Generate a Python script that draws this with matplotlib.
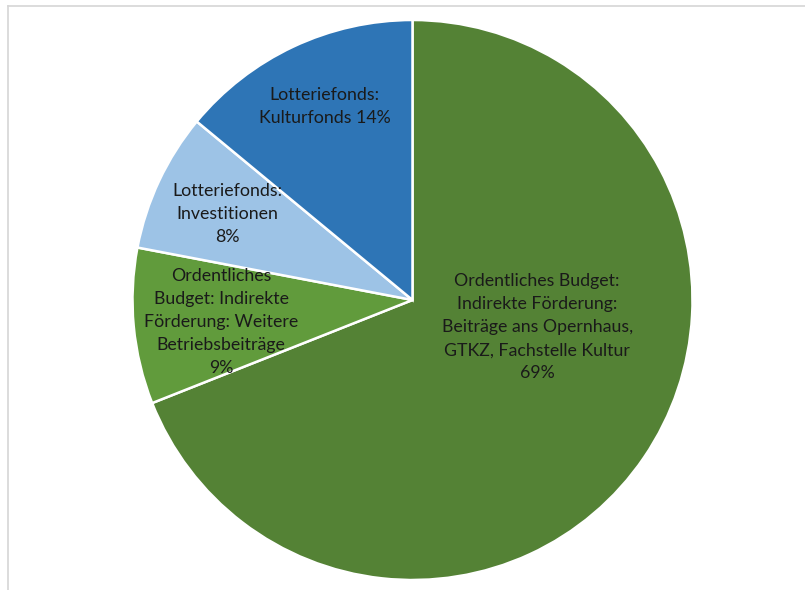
"""
Budget breakdown pie: Ordentliches Budget vs. Lotteriefonds.
"""

import matplotlib
matplotlib.use("Agg")
import matplotlib.pyplot as plt
from matplotlib.lines import Line2D

# ── data ───────────────────────────────────────
labels = [
    "Ordentliches Budget:\nIndirekte Förderung:\nBeiträge ans Opernhaus,\nGTKZ, Fachstelle Kultur\n69%",
    "Ordentliches\nBudget: Indirekte\nFörderung: Weitere\nBetriebsbeiträge\n9%",
    "Lotteriefonds:\nInvestitionen\n8%",
    "Lotteriefonds:\nKulturfonds 14%",
]
shares = [69, 9, 8, 14]
colors = ["#548235", "#619b3c", "#9dc3e6", "#2e75b6"]

# label anchor points, in units of the pie radius
label_xy = [(0.445, -0.097), (-0.683, -0.079), (-0.661, 0.307), (-0.313, 0.690)]

fig = plt.figure(figsize=(8.05, 5.90), dpi=100)
fig.patch.set_facecolor("white")

W, H = 805, 590
cx, cy, r = 412.5, 300, 280
ax = fig.add_axes([(cx - r) / W, (H - cy - r) / H, 2 * r / W, 2 * r / H])

wedges, _ = ax.pie(
    shares,
    colors=colors,
    startangle=90,
    counterclock=False,
    radius=1.0,
    wedgeprops=dict(edgecolor="white", linewidth=1.8),
)
ax.set_xlim(-1, 1)
ax.set_ylim(-1, 1)
ax.set_aspect("equal")
ax.axis("off")

for txt, (x, y) in zip(labels, label_xy):
    ax.text(x, y, txt, ha="center", va="center", fontsize=12.8,
            family="Lato", color="#1a1a1a", linespacing=1.55)

# thin grey frame edges along the top and left
fig.add_artist(Line2D([7.5 / W, 1], [1 - 5.5 / H, 1 - 5.5 / H],
                      transform=fig.transFigure, color="#d6d6d6", lw=1.2))
fig.add_artist(Line2D([7.5 / W, 7.5 / W], [0, 1 - 5.5 / H],
                      transform=fig.transFigure, color="#d6d6d6", lw=1.2))

fig.savefig("out.png", dpi=100, facecolor="white")
plt.close(fig)
